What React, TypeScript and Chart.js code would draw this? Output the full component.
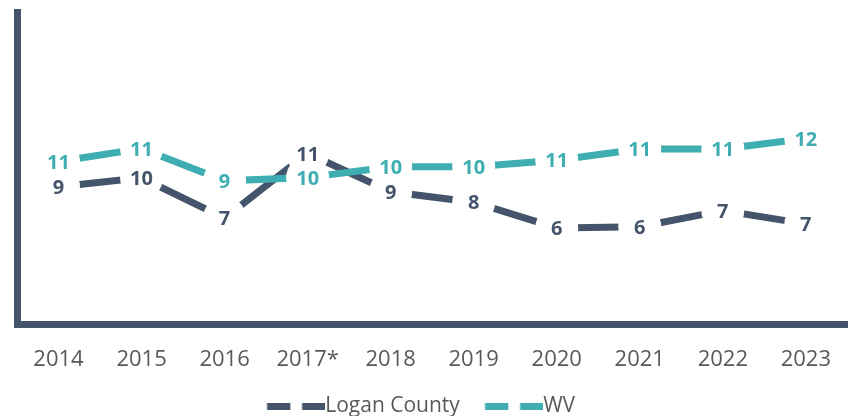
import React, { useEffect, useRef } from 'react';
import { Chart, registerables } from 'chart.js';

Chart.register(...registerables);

const categories = ['2014', '2015', '2016', '2017*', '2018', '2019', '2020', '2021', '2022', '2023'];
const loganCounty = [8.97, 9.55, 6.93, 11.14, 8.64, 7.96, 6.29, 6.37, 7.42, 6.55];
const wv = [10.61, 11.45, 9.35, 9.56, 10.27, 10.27, 10.69, 11.42, 11.42, 12.1];
const seriesNames = ['Logan County', 'WV'];

const LOGAN = '#44546A';
const TEAL = '#3FAEB2';
const AXIS = '#44546A';
const TEXT = '#595959';
const LEGEND_W = 62.8;

function makeLegendSymbol(color: string, w: number): HTMLCanvasElement {
  const c = document.createElement('canvas');
  c.width = Math.round(w + 21);
  c.height = 7;
  const g = c.getContext('2d')!;
  g.fillStyle = color;
  const right = c.width;
  g.fillRect(right - 58.3, 0, 23.3, 7);
  g.fillRect(right - 23.3, 0, 23.3, 7);
  return c;
}

const pointLabels = {
  id: 'pointLabels',
  afterDatasetsDraw(chart: any) {
    const ctx = chart.ctx;
    ctx.save();
    ctx.font = '700 20px "Open Sans"';
    ctx.textAlign = 'center';
    ctx.textBaseline = 'alphabetic';
    chart.data.datasets.forEach((ds: any, i: number) => {
      const meta = chart.getDatasetMeta(i);
      meta.data.forEach((pt: any, j: number) => {
        ctx.fillStyle = ds.borderColor;
        ctx.fillText(String(Math.round(ds.data[j])), pt.x, pt.y + 7.2);
      });
    });
    ctx.restore();
  },
};

const legendShift = {
  id: 'legendShift',
  afterLayout(chart: any) {
    if (chart.legend) {
      chart.legend.left -= 19.5;
      chart.legend.right -= 19.5;
    }
  },
};

export default function App() {
  const ref = useRef<HTMLCanvasElement>(null);
  useEffect(() => {
    const symbols = [makeLegendSymbol(LOGAN, LEGEND_W), makeLegendSymbol(TEAL, LEGEND_W)];
    const chart = new Chart(ref.current!, {
      type: 'line',
      data: {
        labels: categories,
        datasets: [
          {
            label: seriesNames[0],
            data: loganCounty,
            borderColor: LOGAN,
            backgroundColor: LOGAN,
            borderWidth: 7,
            tension: 0,
            pointRadius: 21.5,
            pointHoverRadius: 21.5,
            pointBackgroundColor: '#ffffff',
            pointBorderWidth: 0,
            order: 1,
          },
          {
            label: seriesNames[1],
            data: wv,
            borderColor: TEAL,
            backgroundColor: TEAL,
            borderWidth: 7,
            tension: 0,
            pointRadius: 21.5,
            pointHoverRadius: 21.5,
            pointBackgroundColor: '#ffffff',
            pointBorderWidth: 0,
            order: 0,
          },
        ],
      },
      options: {
        responsive: false,
        animation: false,
        layout: { autoPadding: false, padding: { left: 17, right: 4, top: 12.5, bottom: 0 } },
        plugins: {
          tooltip: { enabled: false },
          legend: {
            position: 'bottom',
            labels: {
              usePointStyle: true,
              pointStyleWidth: LEGEND_W,
              boxHeight: 7,
              padding: 10,
              color: TEXT,
              font: { family: 'Open Sans', size: 21 },
              generateLabels: (ch: any) =>
                ch.data.datasets.map((ds: any, i: number) => ({
                  text: ds.label,
                  fillStyle: ds.borderColor,
                  strokeStyle: ds.borderColor,
                  lineWidth: 0,
                  pointStyle: symbols[i],
                  datasetIndex: i,
                  hidden: false,
                  fontColor: TEXT,
                })),
            },
          },
        },
        scales: {
          x: {
            offset: true,
            grid: { display: false, drawTicks: false },
            border: { display: true, width: 7, color: AXIS },
            ticks: { color: TEXT, font: { family: 'Open Sans', size: 22 }, padding: 21.8, maxRotation: 0 },
            afterFit: (scale: any) => {
              scale.height = 61.4;
            },
          },
          y: {
            min: 0,
            max: 20.3,
            grid: { display: false, drawTicks: false },
            border: { display: true, width: 7, color: AXIS },
            ticks: { display: false },
          },
        },
      },
      plugins: [pointLabels, legendShift],
    });
    return () => chart.destroy();
  }, []);
  return (
    <div style={{ position: 'fixed', left: 0, top: 0, width: 853, height: 416, overflow: 'hidden', background: '#fff' }}>
      <canvas ref={ref} width={853} height={427} style={{ display: 'block' }} />
    </div>
  );
}
